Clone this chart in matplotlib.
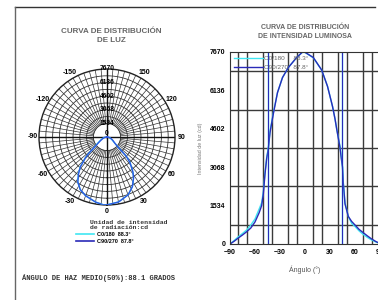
import numpy as np
import matplotlib
matplotlib.use("Agg")
import matplotlib.pyplot as plt
from matplotlib.lines import Line2D

plt.rcParams['font.family'] = ['Liberation Sans', 'DejaVu Sans']

# Intensity curves (cd) against angle (deg)
angles = [-90, -85, -80, -75, -70, -65, -60, -55, -52, -50, -48, -46, -44, -42,
          -38, -33, -27, -20, -10, -3, 0, 10, 20, 27, 33, 36, 38, 42, 44, 45,
          46, 48, 52, 56, 60, 65, 70, 75, 80, 85, 90]
c0_180 = [0, 140, 290, 420, 560, 760, 1000, 1400, 1650, 2100, 2850, 3450, 3850, 4500,
          5250, 6050, 6650, 7050, 7450, 7660, 7650, 7440, 6950, 6300, 5500, 5000,
          4600, 3900, 3350, 3100, 2450, 1650, 1100, 820, 700, 520, 380, 260, 160, 80, 20]
c90_270 = [0, 110, 240, 360, 490, 640, 880, 1250, 1534, 2000, 2800, 3400, 3800, 4450,
           5200, 6050, 6650, 7050, 7450, 7670, 7660, 7450, 6950, 6300, 5500, 5000,
           4602, 3850, 3300, 3068, 2400, 1600, 1100, 900, 760, 580, 450, 320, 200, 100, 20]
labels = ["C0/180", "C90/270"]
beam = [88.3, 87.8]
beam_avg = 88.1
r_ticks = [1534, 3068, 4602, 6136, 7670]
y_max = 7670
tick_deg = [0, 30, 60, 90, 120, 150, -150, -120, -90, -60, -30]

cyan = "#3fe6f2"
navy = "#2a2ab8"
blue_p = "#2f55e0"

fig = plt.figure(figsize=(3.78, 3.0), dpi=100)

# page frame
fig.add_artist(Line2D([15 / 378, 375 / 378], [1 - 7 / 300, 1 - 7 / 300],
                      color="#333333", lw=1.0))
fig.add_artist(Line2D([15 / 378, 15 / 378], [0, 1 - 7 / 300], color="#666666", lw=1.0))

# ---------- polar ----------
ax = fig.add_axes([39 / 378, 1 - 205 / 300, 136 / 378, 136 / 300], projection="polar")
ax.set_theta_zero_location("S")
ax.set_theta_direction(1)
ax.grid(False)
ax.set_yticks([])
ax.set_xticks([])
ax.spines["polar"].set_linewidth(1.0)
ax.spines["polar"].set_color("#222222")

th_full = np.linspace(0, 2 * np.pi, 361)
for r in np.arange(1534, y_max, 767):
    ax.plot(th_full, np.full_like(th_full, r), color="#333333", lw=0.6, zorder=1)
for d in range(0, 360, 5):
    t = np.deg2rad(d)
    ax.plot([t, t], [1534, y_max], color="#333333", lw=0.5, zorder=1)
for d in (0, 90):
    t = np.deg2rad(d)
    ax.plot([t, t], [0, y_max], color="#111111", lw=1.0, zorder=2)
    ax.plot([t + np.pi, t + np.pi], [0, y_max], color="#111111", lw=1.0, zorder=2)

theta = np.deg2rad(np.mod(angles, 360))
ax.plot(theta, c0_180, color=cyan, lw=1.0, zorder=3)
ax.plot(theta, c90_270, color=blue_p, lw=1.0, zorder=4)
ax.set_thetalim(0, 2 * np.pi)
ax.set_ylim(0, y_max)

for d in tick_deg:
    ax.text(np.deg2rad(d % 360), y_max * 1.095, str(d), fontsize=5, fontweight="bold",
            ha="center", va="center", clip_on=False)
for r in r_ticks:
    ax.text(np.pi, r, str(r), fontsize=4.8, fontweight="bold", ha="center",
            va="center", zorder=5)
ax.text(0, 0, "0", fontsize=4.8, fontweight="bold", ha="center", va="bottom", zorder=5)

fig.text(111 / 378, 1 - 36 / 300, "CURVA DE DISTRIBUCIÓN\nDE LUZ", ha="center",
         va="center", fontsize=5.8, fontweight="bold", color="#666666", linespacing=1.3)

fig.text(90 / 378, 1 - 225 / 300, "Unidad de intensidad\nde radiación:cd",
         family="Liberation Mono", fontsize=4.6, ha="left", va="center",
         linespacing=1.1, fontweight="bold", color="#333333")
h1 = Line2D([], [], color=cyan, lw=1.2)
h2 = Line2D([], [], color=navy, lw=1.2)
fig.legend([h1, h2], [f"{labels[0]}  {beam[0]}°", f"{labels[1]}  {beam[1]}°"],
           loc="upper left", bbox_to_anchor=(76 / 378, 1 - 232 / 300), frameon=False,
           prop={"size": 4, "weight": "bold"}, handlelength=3.2, handletextpad=0.5,
           labelspacing=0.35, borderpad=0, borderaxespad=0)

fig.text(22 / 378, 1 - 278 / 300, f"ÁNGULO DE HAZ MEDIO(50%):{beam_avg} GRADOS",
         family="Liberation Mono", fontsize=5.1, ha="left", va="center",
         fontweight="bold", color="#333333")

# ---------- cartesian ----------
bx = fig.add_axes([230 / 378, 1 - 244 / 300, 150 / 378, 192 / 300])
bx.set_xlim(-90, 90)
bx.set_ylim(0, y_max)
bx.set_xticks(range(-90, 91, 10), minor=True)
bx.set_yticks(np.arange(0, y_max + 1, 767), minor=True)
bx.grid(which="minor", color="#3a3a3a", lw=1.0)
bx.set_xticks(range(-90, 91, 30))
bx.set_yticks([0] + r_ticks)
bx.tick_params(which="both", length=0, labelsize=5)
for lab in bx.get_xticklabels() + bx.get_yticklabels():
    lab.set_fontweight("bold")
for s in bx.spines.values():
    s.set_color("#333333")
bx.set_axisbelow(True)

bx.plot(angles, c0_180, color=cyan, lw=1.0, label=f"{labels[0]}     {beam[0]}°")
bx.plot(angles, c90_270, color=navy, lw=1.0, label=f"{labels[1]}   {beam[1]}°")
for a in (-beam[0] / 2, beam[0] / 2):
    bx.axvline(a, color=cyan, lw=1.0)
for a in (-beam[1] / 2, beam[1] / 2):
    bx.axvline(a, color=navy, lw=0.8)

bx.legend(loc="upper left", frameon=False, fontsize=4.6, handlelength=4.5,
          handletextpad=0.3, labelspacing=0.5, borderaxespad=0.2,
          labelcolor="#666666")
bx.set_xlabel("Ángulo (°)", fontsize=5, color="#555555", labelpad=7)
bx.set_ylabel("Intensidad de luz (cd)", fontsize=3.8, color="#777777", labelpad=5)

fig.text(305 / 378, 1 - 32 / 300, "CURVA DE DISTRIBUCIÓN\nDE INTENSIDAD LUMINOSA",
         ha="center", va="center", fontsize=5, fontweight="bold", color="#666666",
         linespacing=1.3)

fig.savefig("out.png", dpi=100)
